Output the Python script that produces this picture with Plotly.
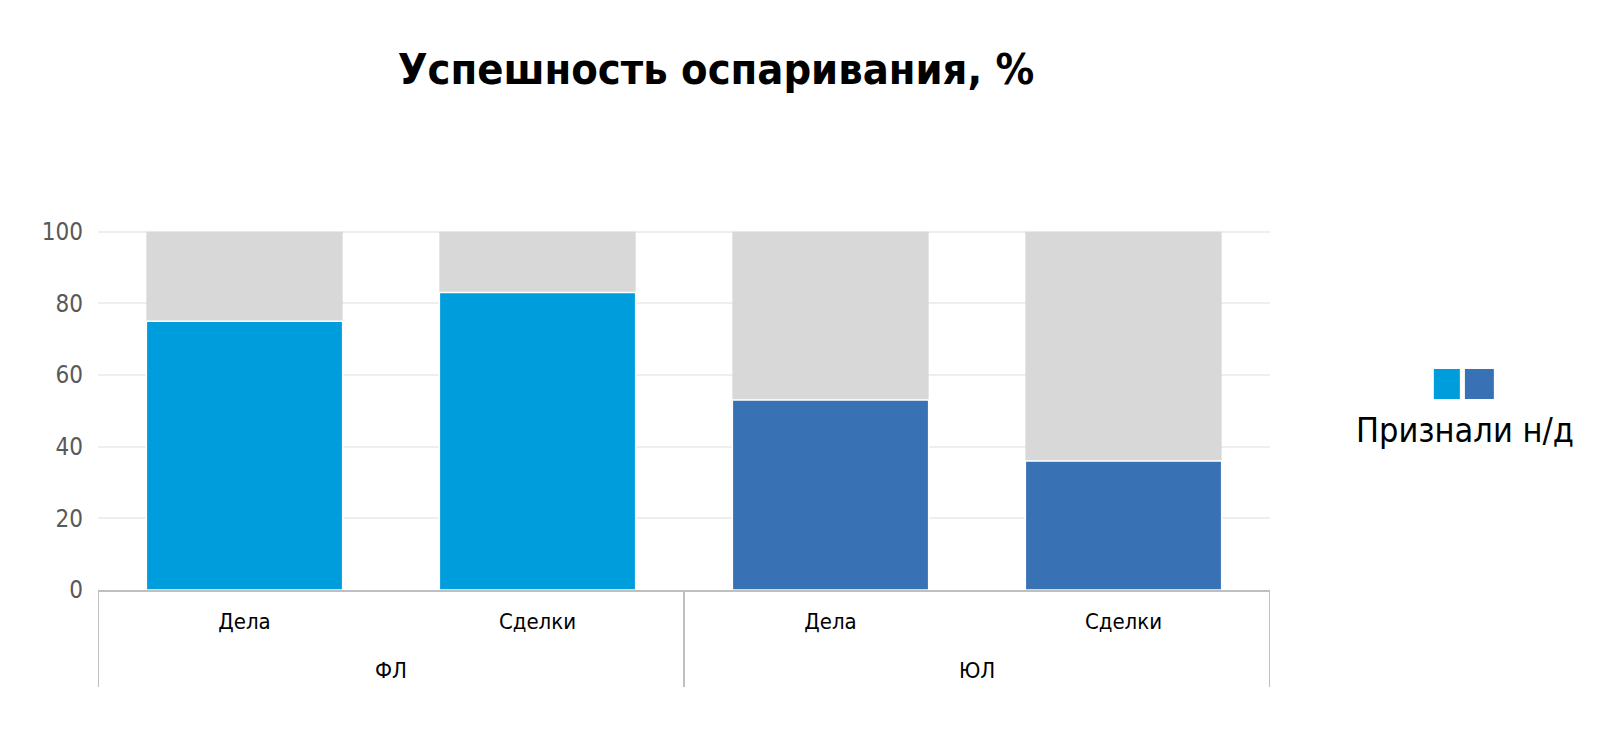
import plotly.graph_objects as go

groups = ["ФЛ", "ФЛ", "ЮЛ", "ЮЛ"]
categories = ["Дела", "Сделки", "Дела", "Сделки"]
total = [100, 100, 100, 100]
recognized = [75, 83, 53, 36]
bar_colors = ["#009DDC", "#009DDC", "#3871B4", "#3871B4"]
y_ticks = [0, 20, 40, 60, 80, 100, 120]
y_tick_text = ["0", "20", "40", "60", "80", "100", ""]

FONT = "DejaVu Sans Condensed, Roboto, sans-serif"

pos = list(range(len(categories)))

# group spans
group_names = []
group_ranges = []
for i, g in enumerate(groups):
    if not group_names or group_names[-1] != g:
        group_names.append(g)
        group_ranges.append([i, i])
    else:
        group_ranges[-1][1] = i

fig = go.Figure()
fig.add_trace(go.Bar(
    x=pos, y=total,
    marker=dict(color="#D6D6D6", line=dict(width=0)),
    width=0.67, opacity=0.95, showlegend=False, hoverinfo="skip",
))
fig.add_trace(go.Bar(
    x=pos, y=recognized,
    marker=dict(color=bar_colors, line=dict(color="white", width=1.5)),
    width=0.67, name="Признали н/д", showlegend=False,
))

shapes = []
bounds = [group_ranges[0][0] - 0.5] + [r[1] + 0.5 for r in group_ranges]
for b in bounds:
    shapes.append(dict(type="line", xref="x", yref="paper", x0=b, x1=b, y0=0, y1=-0.2256,
                       line=dict(color="#BFBFBF", width=2)))
shapes += [
    dict(type="rect", xref="paper", yref="paper", x0=1.1398, x1=1.1620, y0=0.4442, y1=0.514,
         fillcolor="#009DDC", line=dict(width=0)),
    dict(type="rect", xref="paper", yref="paper", x0=1.1663, x1=1.1910, y0=0.4442, y1=0.514,
         fillcolor="#3871B4", line=dict(width=0)),
]

annotations = [
    dict(text="Признали н/д", xref="paper", yref="paper", x=1.1667, y=0.372,
         xanchor="center", yanchor="middle", showarrow=False,
         font=dict(family=FONT, size=34, color="black")),
]
for name, (a, b) in zip(group_names, group_ranges):
    annotations.append(dict(text=name, xref="x", yref="paper", x=(a + b) / 2, y=-0.188,
                            xanchor="center", yanchor="middle", showarrow=False,
                            font=dict(family=FONT, size=22, color="black")))

fig.update_layout(
    width=1600, height=737,
    barmode="overlay",
    paper_bgcolor="white", plot_bgcolor="white",
    margin=dict(l=98, r=330, t=160, b=147),
    font=dict(family=FONT, color="black"),
    title=dict(text="<b>Успешность оспаривания, %</b>", x=0.4475, xref="container",
               xanchor="center", y=0.906, yref="container", yanchor="middle",
               font=dict(family=FONT, size=43, color="black")),
    xaxis=dict(range=[-0.5, len(categories) - 0.5], tickvals=pos, ticktext=categories,
               showline=True, linecolor="#BFBFBF", linewidth=2,
               showgrid=False, zeroline=False, ticks="", ticklabelstandoff=11,
               tickfont=dict(family=FONT, size=22, color="black")),
    yaxis=dict(range=[0, 120], tickvals=y_ticks, ticktext=y_tick_text, showgrid=True,
               gridcolor="#EEEEEE", gridwidth=2, zeroline=False, showline=False,
               tickfont=dict(family=FONT, size=24, color="#595959"), ticklabelstandoff=14),
    shapes=shapes,
    annotations=annotations,
)

fig.write_html("out.html")
